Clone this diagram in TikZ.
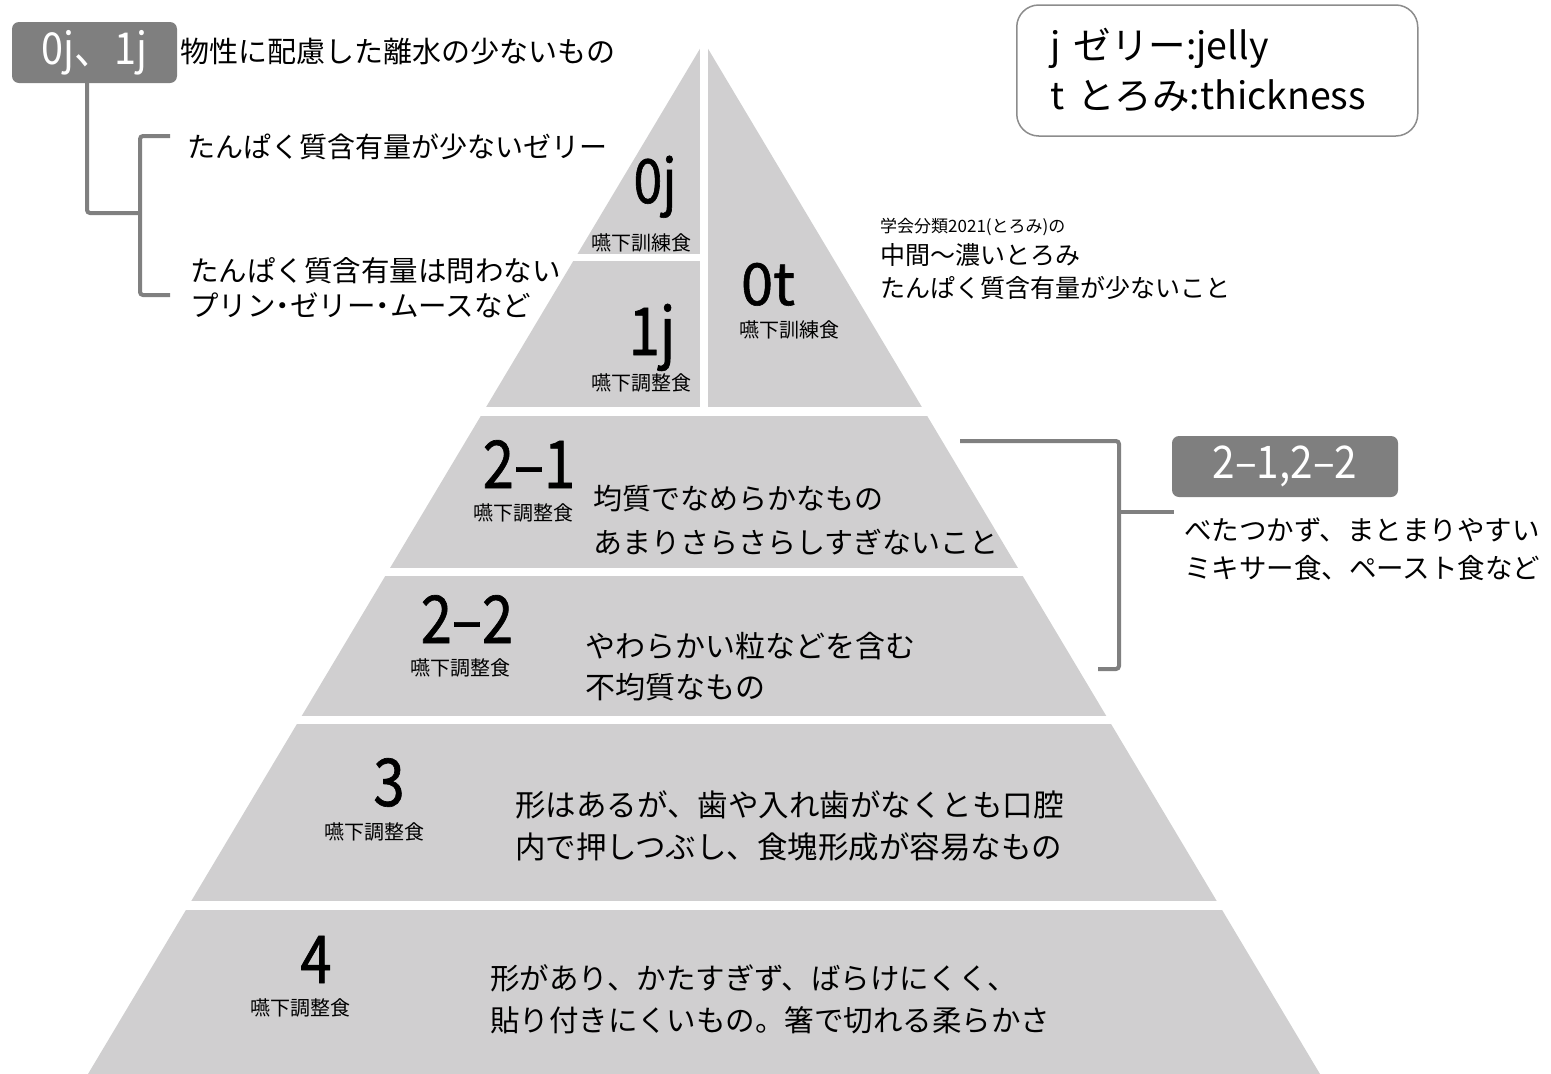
\documentclass[tikz,border=0pt]{standalone}
\usepackage{fontspec}
\setmainfont{Noto Sans CJK JP}
\newfontfamily\bignum[FakeStretch=0.85,FakeBold=1]{Noto Sans CJK JP}
\newfontfamily\widenum[FakeBold=1]{Noto Sans CJK JP}
\newfontfamily\boxfont[FakeStretch=0.9]{Noto Sans CJK JP}
\definecolor{tiergray}{RGB}{208,207,208}
\definecolor{boxgray}{RGB}{127,127,127}
\definecolor{linegray}{RGB}{128,128,128}
\definecolor{legendline}{RGB}{140,140,140}
\newcommand{\nakaguro}{\kern-7pt・\kern-7pt}
\begin{document}
\begin{tikzpicture}[x=1pt,y=-1pt,
  txt/.style={inner sep=0pt, anchor=west, align=left},
  big/.style={inner sep=0pt, anchor=base, font=\bignum\fontsize{#1}{#1}\selectfont},
  smalllab/.style={inner sep=0pt, font=\fontsize{20}{20}\selectfont},
  darkbox/.style={fill=boxgray, rounded corners=7pt, text=white, minimum height=61pt, inner sep=0pt},
  bracket/.style={draw=linegray, line width=4pt, rounded corners=3pt},
  gapline/.style={draw=white, line width=8.5pt}]
\useasboundingbox (0,0) rectangle (1551,1074);
% pyramid
\fill[tiergray] (704,42) -- (88,1074) -- (1320,1074) -- cycle;
\draw[gapline] (704,30) -- (704,411);
\draw[gapline, line width=7pt] (460,257) -- (704,257);
\draw[gapline] (460,411.5) -- (950,411.5);
\draw[gapline] (370,572) -- (1040,572);
\draw[gapline] (280,720) -- (1130,720);
\draw[gapline] (170,905.5) -- (1240,905.5);

% tier labels
\node[big=61] (l0j) at (655,203) {0j};
\node[smalllab] (s0j) at (641,243) {嚥下訓練食};
\node[big=66] (l1j) at (652,355) {1j};
\node[smalllab] (s0j1) at (641,383) {嚥下調整食};
\node[inner sep=0pt, anchor=base, font=\widenum\fontsize{58}{58}\selectfont] (l0t) at (768,305) {0t};
\node[smalllab] (s0t) at (789,330) {嚥下訓練食};
\node[big=66] (l21) at (529,488) {2–1};
\node[smalllab] (s21) at (523,513) {嚥下調整食};
\node[big=66] (l22) at (467,643) {2–2};
\node[smalllab] (s22) at (460,668) {嚥下調整食};
\node[big=66] (l3) at (389,806) {3};
\node[smalllab] (s3) at (374,832) {嚥下調整食};
\node[big=66] (l4) at (316,983) {4};
\node[smalllab] (s4) at (300,1008) {嚥下調整食};

% tier descriptions
\node[txt, font=\fontsize{29}{44}\selectfont] (d21) at (593,520) {均質でなめらかなもの\\あまりさらさらしすぎないこと};
\node[txt, font=\fontsize{30}{41}\selectfont] (d22) at (585,666.5) {やわらかい粒などを含む\\不均質なもの};
\node[txt, font=\fontsize{30.5}{42}\selectfont] (d3) at (515,826) {形はあるが、歯や入れ歯がなくとも口腔\\内で押しつぶし、食塊形成が容易なもの};
\node[txt, font=\fontsize{29.5}{42}\selectfont] (d4) at (490,999) {形があり、かたすぎず、ばらけにくく、\\貼り付きにくいもの。箸で切れる柔らかさ};

% left annotations
\node[darkbox, minimum width=165pt, font=\boxfont\fontsize{44}{44}\selectfont] (b01) at (94.5,52.5) {0j、1j};
\node[txt, font=\fontsize{29}{29}\selectfont] (t1) at (180,52) {物性に配慮した離水の少ないもの};
\node[txt, font=\fontsize{28}{28}\selectfont] (t2) at (187,147) {たんぱく質含有量が少ないゼリー};
\node[txt, font=\fontsize{28.5}{35}\selectfont] (t3) at (190,287.5) {たんぱく質含有量は問わない\\プリン\nakaguro ゼリー\nakaguro ムースなど};

% 0t annotation
\node[txt, font=\fontsize{17}{17}\selectfont] (t4) at (880,227) {学会分類2021(とろみ)の};
\node[txt, font=\fontsize{25}{33}\selectfont] (t5) at (880,271.5) {中間〜濃いとろみ\\たんぱく質含有量が少ないこと};

% legend
\node[draw=legendline, line width=1.5pt, rounded corners=22pt, anchor=west,
      minimum height=131pt, text width=333pt, inner xsep=34pt, inner ysep=0pt, align=left,
      font=\fontsize{37.5}{50}\selectfont] (leg) at (1016,70.5) {j ゼリー:jelly\\t とろみ:thickness};

% right annotation
\node[darkbox, minimum width=226pt, font=\boxfont\fontsize{45}{45}\selectfont] (b22) at (1285,466.5) {2–1,2–2};
\node[txt, font=\fontsize{27.5}{38}\selectfont] (t6) at (1184,549) {べたつかず、まとまりやすい\\ミキサー食、ペースト食など};

% brackets
\coordinate (lbk) at (140,213);
\coordinate (brT) at (170,136);
\coordinate (brB) at (170,295);
\draw[bracket] ([xshift=-7.5pt]b01.south) |- (lbk);
\draw[bracket] (brT) -| (lbk) |- (brB);
\coordinate (rbT) at (960,441);
\coordinate (rbM) at (1119,512);
\coordinate (rbB) at (1098,669);
\coordinate (rbE) at (1174,512);
\draw[bracket] (rbT) -| (rbM) |- (rbB);
\draw[bracket] (rbM) -- (rbE);
\end{tikzpicture}
\end{document}
